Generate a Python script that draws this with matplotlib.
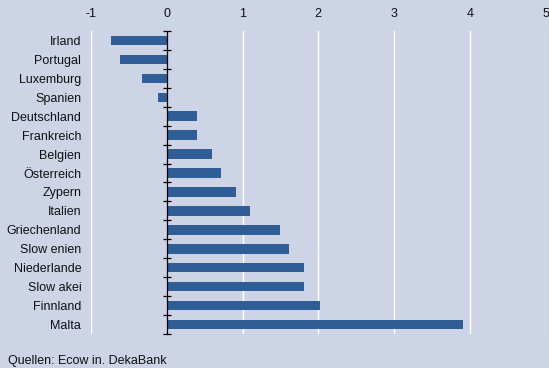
import matplotlib

matplotlib.use("Agg")

import matplotlib.pyplot as plt

plt.rcParams["font.family"] = ["Liberation Sans", "DejaVu Sans"]
plt.rcParams["axes.unicode_minus"] = False

# Daten (von oben nach unten)
laender = ["Irland", "Portugal", "Luxemburg", "Spanien", "Deutschland", "Frankreich",
           "Belgien", "Österreich", "Zypern", "Italien", "Griechenland", "Slow enien",
           "Niederlande", "Slow akei", "Finnland", "Malta"]
werte = [-0.73, -0.62, -0.33, -0.12, 0.40, 0.40, 0.60, 0.71, 0.91, 1.10,
         1.50, 1.61, 1.81, 1.81, 2.02, 3.91]
x_ticks = [-1, 0, 1, 2, 3, 4, 5]

BG = "#CCD4E6"
BAR = "#2F5E96"

fig = plt.figure(figsize=(5.49, 3.68), dpi=100)
fig.patch.set_facecolor(BG)
ax = fig.add_axes([0.1658, 0.0924, 0.828, 0.8234])
ax.set_facecolor(BG)

y = list(range(len(laender)))
ax.barh(y, werte, height=0.5, color=BAR, zorder=3)

ax.set_xlim(-1, 5)
ax.set_ylim(len(laender) - 0.5, -0.5)
ax.set_xticks(x_ticks)
ax.xaxis.tick_top()
ax.tick_params(axis="x", length=0, pad=8, labelsize=9, colors="#111111")
ax.set_yticks(y)
ax.set_yticklabels(laender)
ax.tick_params(axis="y", length=0, pad=7, labelsize=9, colors="#111111")

for s in ax.spines.values():
    s.set_visible(False)

# weiße Gitterlinien (außer bei 0)
for xv in x_ticks:
    if xv != 0:
        ax.axvline(xv, color="white", lw=1.0, zorder=1)

# Nulllinie mit Teilstrichen
ax.axvline(0, color="black", lw=0.9, zorder=4)
grenzen = [i - 0.5 for i in range(len(laender) + 1)]
ax.plot([0] * len(grenzen), grenzen, ls="none", marker="_", ms=6, mew=0.9,
        color="black", zorder=4, clip_on=False)

fig.text(0.015, 0.002, "Quellen: Ecow in. DekaBank", fontsize=9, color="#111111",
         ha="left", va="bottom")

fig.savefig("out.png", dpi=100, facecolor=BG)
